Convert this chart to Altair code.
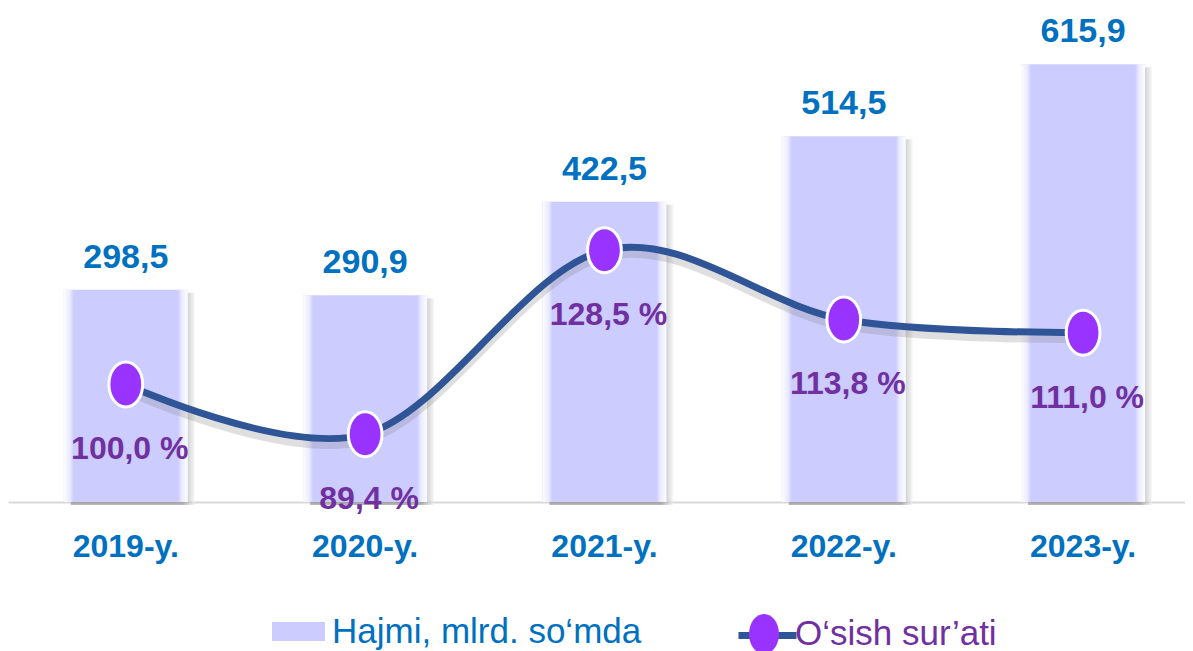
import altair as alt
import pandas as pd

years = ["2019-y.", "2020-y.", "2021-y.", "2022-y.", "2023-y."]
volume = [298.5, 290.9, 422.5, 514.5, 615.9]
volume_labels = ["298,5", "290,9", "422,5", "514,5", "615,9"]
growth = [100.0, 89.4, 128.5, 113.8, 111.0]
growth_labels = ["100,0 %", "89,4 %", "128,5 %", "113,8 %", "111,0 %"]
bar_series = "Hajmi, mlrd. so‘mda"
line_series = "O‘sish sur’ati"

df = pd.DataFrame({
    "year": years,
    "volume": volume,
    "vlabel": volume_labels,
    "growth": growth,
    "glabel": growth_labels,
    "s_bar": [bar_series] * len(years),
    "s_line": [line_series] * len(years),
    "s_pt": [line_series] * len(years),
})

FONT = "Liberation Sans"
BLUE = "#0070C0"
PURPLE = "#7030A0"
ELLIPSE = "M0,-1 A0.75,1 0 1,1 0,1 A0.75,1 0 1,1 0,-1 Z"
RECT = "M-1,-0.36 H1 V0.36 H-1 Z"

x_enc = alt.X(
    "year:N", sort=years,
    scale=alt.Scale(paddingInner=0.482, paddingOuter=0.2, align=0.583),
    axis=alt.Axis(title=None, labelAngle=0, labelFont=FONT, labelFontSize=32,
                  labelFontWeight="bold", labelColor=BLUE, ticks=False, tickSize=0,
                  labelPadding=29, domainColor="#D9D9D9", domainWidth=2, grid=False),
)
y_bar = alt.Y("volume:Q", scale=alt.Scale(domain=[0, 695]), axis=None)
y_line = alt.Y("growth:Q", scale=alt.Scale(domain=[75, 180]), axis=None)

base = alt.Chart(df)

shadow_grad = alt.LinearGradient(
    gradient="linear", x1=0, x2=1, y1=0, y2=0,
    stops=[alt.GradientStop(color="#7a7a7a", offset=0),
           alt.GradientStop(color="#7a7a7a", offset=0.9),
           alt.GradientStop(color="#f4f4f4", offset=1)],
)
bar_shadow = base.mark_bar(color=shadow_grad, opacity=0.55, xOffset=7, yOffset=3).encode(x=x_enc, y=y_bar)

bars = base.mark_bar().encode(
    x=x_enc, y=y_bar,
    fill=alt.Fill("s_bar:N", scale=alt.Scale(range=["#CCCCFF"]),
                  legend=alt.Legend(title=None, orient="none", legendX=264, legendY=597,
                                    symbolType=RECT, symbolSize=2809, symbolStrokeWidth=0,
                                    labelFont=FONT, labelFontSize=35, labelColor=BLUE,
                                    labelOffset=7, padding=0, labelLimit=500)),
)

bevel_grad = alt.LinearGradient(
    gradient="linear", x1=0, x2=1, y1=0, y2=0,
    stops=[alt.GradientStop(color="rgba(255,255,255,0.95)", offset=0),
           alt.GradientStop(color="rgba(255,255,255,0.6)", offset=0.05),
           alt.GradientStop(color="rgba(255,255,255,0)", offset=0.08),
           alt.GradientStop(color="rgba(255,255,255,0)", offset=0.92),
           alt.GradientStop(color="rgba(255,255,255,0.6)", offset=0.95),
           alt.GradientStop(color="rgba(255,255,255,0.95)", offset=1)],
)
bevel = base.mark_bar(color=bevel_grad).encode(x=x_enc, y=y_bar)

bar_text = base.mark_text(font=FONT, fontSize=34, fontWeight="bold", color=BLUE,
                          baseline="alphabetic", dy=-22).encode(x=x_enc, y=y_bar, text="vlabel:N")

bar_layer = alt.layer(bar_shadow, bars, bevel, bar_text)

line_shadow = base.mark_line(color="#808080", strokeWidth=7, opacity=0.25,
                             interpolate="cardinal", yOffset=7).encode(x=x_enc, y=y_line)
line = base.mark_line(strokeWidth=7, interpolate="cardinal").encode(
    x=x_enc, y=y_line,
    stroke=alt.Stroke("s_line:N", scale=alt.Scale(range=["#2F5597"]),
                      legend=alt.Legend(title=None, orient="none", legendX=727, legendY=595,
                                        symbolType="stroke", symbolSize=3364, symbolStrokeWidth=7,
                                        labelExpr="''", labelFontSize=1,
                                        labelOffset=0, padding=0)),
)
points = base.mark_point(filled=True, fill="#9933FF", stroke="white", strokeWidth=3,
                         opacity=1, size=2025).encode(
    x=x_enc, y=y_line,
    shape=alt.Shape("s_pt:N", scale=alt.Scale(range=[ELLIPSE]),
                    legend=alt.Legend(title=None, orient="none", legendX=736, legendY=606,
                                      symbolSize=1600, symbolFillColor="#9966FF",
                                      symbolStrokeWidth=0,
                                      labelFont=FONT, labelFontSize=35, labelColor=PURPLE,
                                      labelOffset=11, padding=0, labelLimit=500)),
)
pct_text = base.mark_text(font=FONT, fontSize=32, fontWeight="bold", color=PURPLE,
                          baseline="alphabetic", dy=75, dx=4).encode(x=x_enc, y=y_line, text="glabel:N")

line_layer = alt.layer(line_shadow, line, points, pct_text)

chart = alt.layer(bar_layer, line_layer).resolve_scale(y="independent").properties(
    width=1177, height=494,
    padding={"left": 0, "top": 0, "right": 0, "bottom": 149},
    autosize=alt.AutoSizeParams(type="none"),
    background="white",
).configure_view(stroke=None)

chart.save("out.html", embed_options={"renderer": "svg", "actions": False})
